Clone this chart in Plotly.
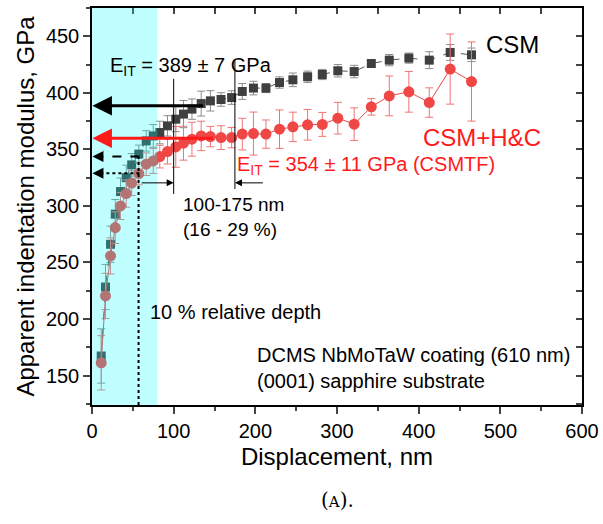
import plotly.graph_objects as go

# ---- data ----
disp = [11.3, 16.5, 22.7, 28.5, 34.9, 41.9, 48.6, 57.3, 66.4, 75, 83, 92.4, 102.6, 112,
        122.4, 133.7, 145, 158, 171, 184, 197.7, 213, 229.6, 246, 264, 282, 301, 321,
        342, 364, 388, 413, 438.6, 464.7]
csm = [167.3, 228.3, 266.1, 292.7, 312.7, 325.0, 336.3, 345.8, 357.5, 361.9, 364.9, 370.8,
       376.7, 381.2, 385.6, 390.5, 392.9, 394.1, 395.8, 401.2, 404.2, 404.2, 409.1, 411.5,
       414.2, 416.2, 419.5, 418.8, 425.9, 428.9, 430.7, 428.9, 435.7, 433.6]
csm_err = [24, 20, 16, 13, 12, 11, 10, 8, 9, 10, 10, 9, 11, 12, 9, 11, 9, 6, 6, 7, 6, 4,
           5, 6, 5, 4.5, 5.5, 5.5, 3, 5, 4.5, 7.5, 7, 6]
hc = [161.3, 220.4, 255.8, 280.8, 300.0, 310.9, 320.2, 328.6, 336.9, 339.8, 343.6, 348.1,
      352.2, 355.5, 359.0, 361.9, 361.3, 360.4, 360.4, 363.5, 364.0, 363.5, 367.9, 369.9,
      371.7, 372.1, 377.6, 372.3, 387.6, 397.3, 400.9, 391.4, 421.0, 410.0]
hc_err = [24, 20, 16, 14, 12, 12, 11, 10, 10, 11, 10, 11, 18, 15, 15, 13, 9, 10.5, 9, 14,
          19, 12.5, 17, 13, 13.5, 10.6, 14, 14.4, 7.3, 17.6, 18, 13, 31, 35]

x_range = [0, 600]
y_range = [124, 475]
x_ticks = [0, 100, 200, 300, 400, 500, 600]
y_ticks = [150, 200, 250, 300, 350, 400, 450]

shade_x = [0, 80]
rel_depth_x = 57
window_x = [100, 175]
E_csm = 388.5
E_hc = 359.9

FONT = "Liberation Sans, Arial, sans-serif"

fig = go.Figure()

fig.add_trace(go.Scatter(
    x=disp, y=csm, mode="lines+markers",
    line=dict(color="#555555", width=1, dash="dash"),
    marker=dict(symbol="square", size=9, color="#3f3f3f"),
    error_y=dict(type="data", array=csm_err, color="#8c8c8c", thickness=1, width=4),
    showlegend=False, hoverinfo="skip"))

fig.add_trace(go.Scatter(
    x=disp, y=hc, mode="lines+markers",
    line=dict(color="#ee4444", width=1),
    marker=dict(symbol="circle", size=11, color="#ef4646"),
    error_y=dict(type="data", array=hc_err, color="#f07474", thickness=1, width=4),
    showlegend=False, hoverinfo="skip"))

# invisible trace for mirrored top/right axes
fig.add_trace(go.Scatter(x=[x_range[0]], y=[y_range[0]], xaxis="x2", yaxis="y2",
                         mode="markers", marker=dict(opacity=0), showlegend=False,
                         hoverinfo="skip"))

shapes = [
    dict(type="rect", xref="x", yref="paper", x0=shade_x[0], x1=shade_x[1], y0=0, y1=1,
         fillcolor="rgba(0,255,255,0.25)", line=dict(width=0), layer="above"),
    dict(type="line", xref="x", yref="y", x0=rel_depth_x, x1=rel_depth_x,
         y0=y_range[0], y1=343.6, line=dict(color="black", width=2, dash="dot"), layer="above"),
    dict(type="line", xref="x", yref="y", x0=window_x[0], x1=window_x[0], y0=310.6, y1=412.4,
         line=dict(color="black", width=1), layer="above"),
    dict(type="line", xref="x", yref="y", x0=window_x[1], x1=window_x[1], y0=315, y1=428.3,
         line=dict(color="black", width=1), layer="above"),
    dict(type="line", xref="x", yref="y", x0=58, x1=6, y0=343.6, y1=343.6,
         line=dict(color="black", width=2, dash="dash"), layer="above"),
    dict(type="line", xref="x", yref="y", x0=58, x1=6, y0=329, y1=329,
         line=dict(color="black", width=2, dash="dot"), layer="above"),
]

def arrow(x, y, ax, ay, color="black", width=1, size=1.0):
    return dict(x=x, y=y, ax=ax, ay=ay, xref="x", yref="y", axref="x", ayref="y",
                text="", showarrow=True, arrowhead=2, arrowsize=size, arrowwidth=width,
                arrowcolor=color, standoff=0, startstandoff=0)

annotations = [
    arrow(0.5, E_csm, 137.7, E_csm, "black", 3, 1.3),
    arrow(0.5, E_hc, 150, E_hc, "#ff1a1a", 3, 1.3),
    arrow(0.5, 343.6, 10, 343.6, "black", 2, 1.1),
    arrow(0.5, 329, 10, 329, "black", 2, 1.1),
    arrow(window_x[0], 320.4, 59, 320.4, "black", 1, 1.4),
    arrow(window_x[1], 320.4, 211, 320.4, "black", 1, 1.4),
    dict(x=515, y=442.5, xref="x", yref="y", text="CSM", showarrow=False,
         font=dict(family=FONT, size=24, color="black")),
    dict(x=477, y=360.2, xref="x", yref="y", text="CSM+H&amp;C", showarrow=False,
         font=dict(family=FONT, size=24, color="#ff1a1a")),
    dict(x=174.5, y=335.4, xref="x", yref="y", xanchor="left",
         text="E<sub>IT</sub> = 354 ± 11 GPa (CSMTF)", showarrow=False,
         font=dict(family=FONT, size=20, color="#ff1a1a")),
    dict(x=19, y=423, xref="x", yref="y", xanchor="left",
         text="E<sub>IT</sub> = 389 ± 7 GPa", showarrow=False,
         font=dict(family=FONT, size=20, color="black")),
    dict(x=108.4, y=290, xref="x", yref="y", xanchor="left", align="left",
         text="100-175 nm<br>(16 - 29 %)", showarrow=False,
         font=dict(family=FONT, size=19, color="black")),
    dict(x=68, y=206.2, xref="x", yref="y", xanchor="left",
         text="10 % relative depth", showarrow=False,
         font=dict(family=FONT, size=20, color="black")),
    dict(x=199, y=156.3, xref="x", yref="y", xanchor="left", align="left",
         text="DCMS NbMoTaW coating (610 nm)<br>(0001) sapphire substrate", showarrow=False,
         font=dict(family=FONT, size=20, color="black")),
    dict(x=0.5, y=-0.24, xref="paper", yref="paper", xanchor="center", yanchor="middle",
         text="(<span style='font-size:15px'>A</span>).", showarrow=False,
         font=dict(family="DejaVu Serif, Liberation Serif, serif", size=20, color="black")),
]

fig.update_layout(
    width=603, height=524,
    margin=dict(l=92, r=21, t=8, b=119),
    paper_bgcolor="white", plot_bgcolor="white",
    font=dict(family=FONT, color="black"),
    shapes=shapes, annotations=annotations,
    xaxis=dict(range=x_range, tickvals=x_ticks, ticks="outside", ticklen=7, tickwidth=1.5,
               showline=True, linecolor="black", linewidth=1.5, showgrid=False, zeroline=False,
               automargin=False,
               tickfont=dict(size=20), title=dict(text="Displacement, nm", font=dict(size=24), standoff=7),
               minor=dict(ticks="outside", dtick=50, ticklen=4, tickwidth=1.5, tick0=0)),
    yaxis=dict(range=y_range, tickvals=y_ticks, ticks="outside", ticklen=7, tickwidth=1.5,
               showline=True, linecolor="black", linewidth=1.5, showgrid=False, zeroline=False,
               automargin=False,
               tickfont=dict(size=20), title=dict(text="Apparent indentation modulus, GPa", font=dict(size=24), standoff=4),
               minor=dict(ticks="outside", dtick=25, ticklen=4, tickwidth=1.5, tick0=0)),
    xaxis2=dict(range=x_range, overlaying="x", side="top", ticks="inside", dtick=50, tick0=0,
                ticklen=6, tickwidth=1.5, showline=True, linecolor="black", linewidth=1.5,
                automargin=False,
                showticklabels=False, showgrid=False, zeroline=False),
    yaxis2=dict(range=y_range, overlaying="y", side="right", ticks="inside", dtick=25, tick0=0,
                ticklen=6, tickwidth=1.5, showline=True, linecolor="black", linewidth=1.5,
                automargin=False,
                showticklabels=False, showgrid=False, zeroline=False),
)

fig.write_html("out.html", config={"displayModeBar": False},
               post_script="document.body.style.margin='0';document.body.style.padding='0';")
